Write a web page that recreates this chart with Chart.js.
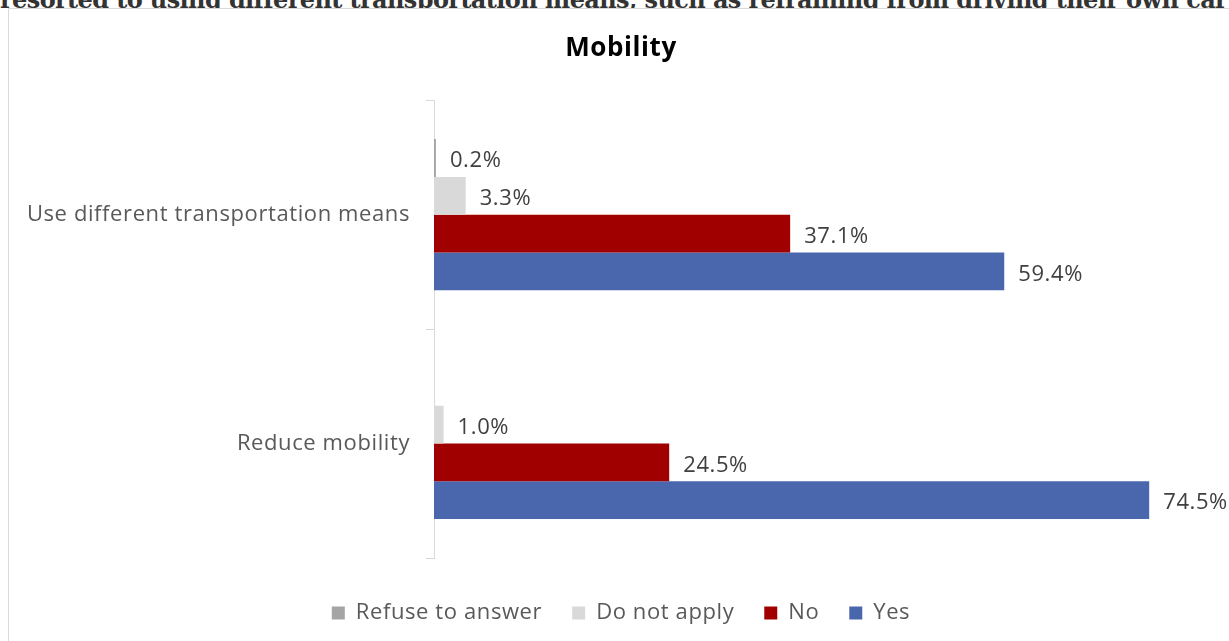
<!DOCTYPE html>
<html lang="en">
<head>
  <meta charset="UTF-8">
  <title>Mobility</title>
  <script src="https://cdn.jsdelivr.net/npm/chart.js"></script>
  <style>
    body {
      margin: 0;
      background: #fff;
      overflow: hidden;
      font-family: "Open Sans", sans-serif;
    }
    .above {
      position: absolute;
      left: 0;
      top: -15px;
      white-space: nowrap;
      font-family: "DejaVu Serif", serif;
      font-weight: bold;
      font-size: 24px;
      letter-spacing: -0.6px;
      color: #333;
    }
    .box {
      position: absolute;
      left: 8px;
      top: 8px;
      width: 1230px;
      height: 640px;
      border: 1px solid #d9d9d9;
      background: #fff;
    }
    canvas {
      position: absolute;
      left: 0;
      top: 0;
    }
  </style>
</head>
<body>
  <div class="above">resorted to using different transportation means, such as refraining from driving their own car</div>
  <div class="box">
    <canvas id="mobilityChart" width="1224" height="640"></canvas>
  </div>

  <script>
    const categories = ['Use different transportation means', 'Reduce mobility'];
    const refuseToAnswer = [0.2, 0];
    const doNotApply = [3.3, 1.0];
    const noAnswers = [37.1, 24.5];
    const yesAnswers = [59.4, 74.5];

    // slightly wider letter spacing, closer to the Office look
    const spacing = {
      id: 'spacing',
      beforeUpdate(chart) { chart.ctx.letterSpacing = '0.6px'; },
      beforeDraw(chart) { chart.ctx.letterSpacing = '0.6px'; }
    };

    // value labels at the end of each bar
    const barLabels = {
      id: 'barLabels',
      afterDatasetsDraw(chart) {
        const ctx = chart.ctx;
        ctx.save();
        ctx.font = '22px "Open Sans"';
        ctx.fillStyle = '#404040';
        ctx.textBaseline = 'middle';
        ctx.textAlign = 'left';
        chart.data.datasets.forEach((ds, i) => {
          const meta = chart.getDatasetMeta(i);
          meta.data.forEach((bar, j) => {
            const v = ds.data[j];
            if (!v) return;
            ctx.fillText(v.toFixed(1) + '%', bar.x + 14, bar.y + 3);
          });
        });
        ctx.restore();
      }
    };

    new Chart(document.getElementById('mobilityChart'), {
      type: 'bar',
      data: {
        labels: categories,
        datasets: [
          { label: 'Refuse to answer', data: refuseToAnswer, backgroundColor: '#a5a5a5' },
          { label: 'Do not apply', data: doNotApply, backgroundColor: '#d9d9d9' },
          { label: 'No', data: noAnswers, backgroundColor: '#a00000' },
          { label: 'Yes', data: yesAnswers, backgroundColor: '#4a66ac' }
        ]
      },
      options: {
        indexAxis: 'y',
        responsive: false,
        animation: false,
        layout: { padding: { left: 31, right: 31, top: 0, bottom: 15 } },
        datasets: {
          bar: { categoryPercentage: 0.66, barPercentage: 1.0 }
        },
        plugins: {
          title: {
            display: true,
            text: 'Mobility',
            color: '#000',
            font: { family: '"Open Sans"', size: 26, weight: 'bold' },
            padding: { top: 24, bottom: 36 }
          },
          legend: {
            position: 'bottom',
            labels: {
              boxWidth: 13,
              boxHeight: 13,
              padding: 30,
              color: '#595959',
              font: { family: '"Open Sans"', size: 22 }
            }
          },
          tooltip: { enabled: false }
        },
        scales: {
          x: {
            min: 0,
            max: 80,
            grid: { display: false },
            border: { display: false },
            ticks: { display: false },
            afterFit(scale) { scale.height = 14; }
          },
          y: {
            afterFit(scale) {
              scale.width = 394;
              // long label runs into the left padding, don't clip it
              scale._computeLabelArea = () => null;
            },
            grid: {
              display: true,
              offset: true,
              drawOnChartArea: false,
              drawTicks: true,
              tickLength: 8,
              color: '#d9d9d9'
            },
            border: { display: true, color: '#d9d9d9' },
            ticks: {
              color: '#595959',
              padding: 16,
              font: { family: '"Open Sans"', size: 22 }
            }
          }
        }
      },
      plugins: [spacing, barLabels]
    });
  </script>
</body>
</html>
